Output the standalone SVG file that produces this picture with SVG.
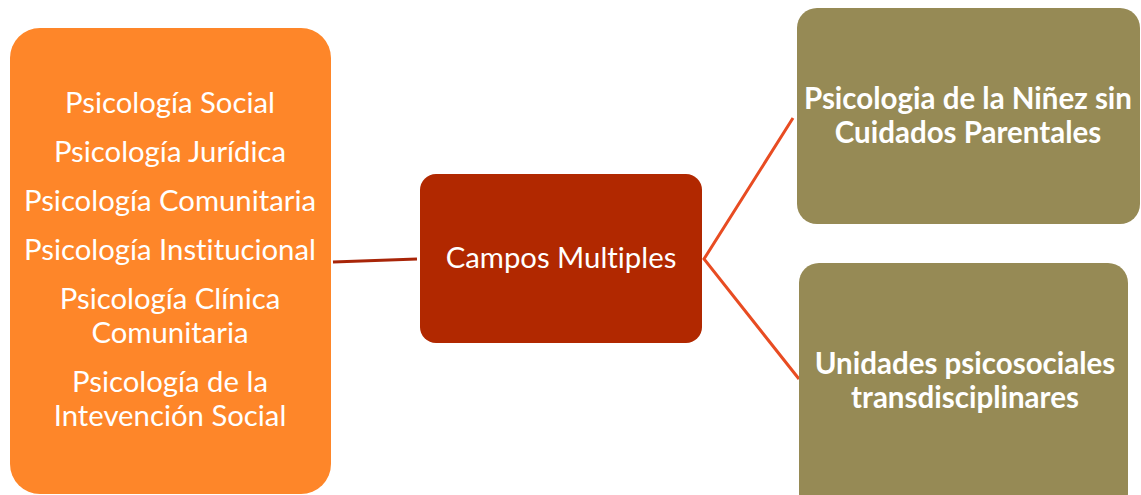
<svg xmlns="http://www.w3.org/2000/svg" width="1141" height="495" viewBox="0 0 1141 495">
<style>
.t{font-family:Lato,"Open Sans",sans-serif;fill:#fff;text-anchor:middle;font-size:29.3px;font-variant-ligatures:none}
.b{font-weight:bold;font-size:29.5px}
</style>
<rect width="1141" height="495" fill="#fff"/>
<g id="connectors" fill="none" stroke-width="3">
<line x1="333" y1="262" x2="417" y2="259" stroke="#a82508"/>
<polyline points="793,118 704,259 799,379" stroke="#e84c22"/>
</g>
<g id="left">
<rect x="10" y="28" width="321" height="466" rx="30" fill="#fe8629"/>
<text class="t" x="170" y="113">Psicología Social</text>
<text class="t" x="170" y="162">Psicología Jurídica</text>
<text class="t" x="170" y="211">Psicología Comunitaria</text>
<text class="t" x="170" y="260">Psicología Institucional</text>
<text class="t" x="170" y="309">Psicología Clínica</text>
<text class="t" x="170" y="343">Comunitaria</text>
<text class="t" x="170" y="392">Psicología de la</text>
<text class="t" x="170" y="426">Intevención Social</text>
</g>
<g id="center">
<rect x="420" y="174" width="282" height="169" rx="16" fill="#b12800"/>
<text class="t" x="561" y="268">Campos Multiples</text>
</g>
<g id="top">
<rect x="797" y="8" width="343" height="216" rx="20" fill="#968a55"/>
<text class="t b" x="968" y="109">Psicologia de la Niñez sin</text>
<text class="t b" x="968" y="143">Cuidados Parentales</text>
</g>
<g id="bottom">
<rect x="799" y="263" width="329" height="250" rx="20" fill="#968a55"/>
<text class="t b" x="965" y="374">Unidades psicosociales</text>
<text class="t b" x="965" y="408">transdisciplinares</text>
</g>
</svg>
